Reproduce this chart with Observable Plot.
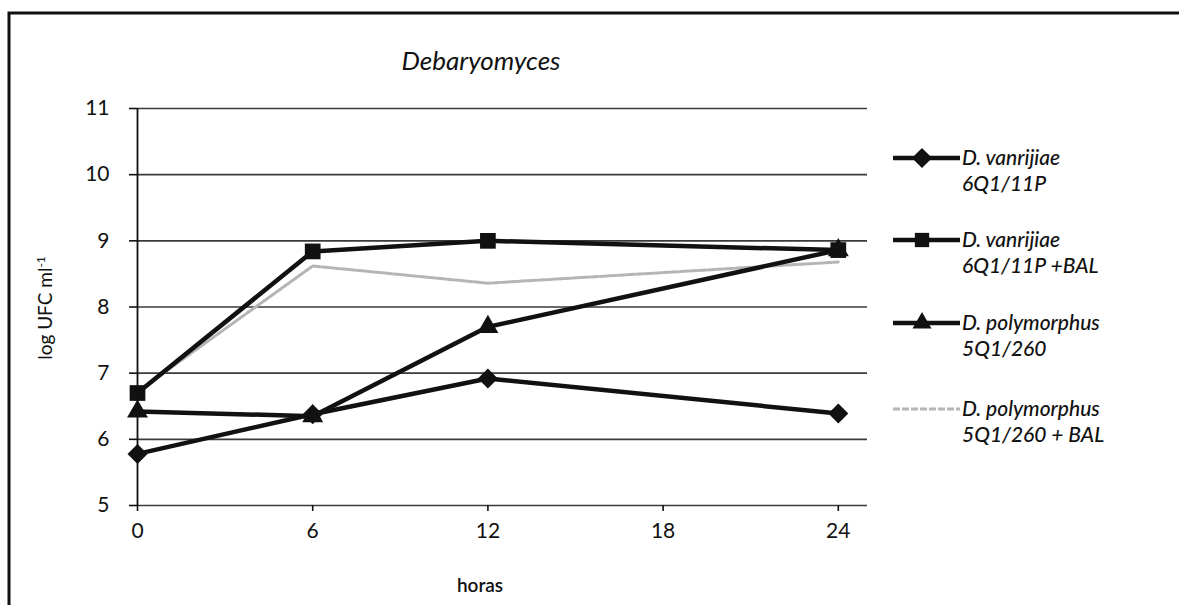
<!DOCTYPE html>
<html>
<head>
<meta charset="utf-8">
<script src="https://cdn.jsdelivr.net/npm/d3@7"></script>
<script src="https://cdn.jsdelivr.net/npm/@observablehq/plot@0.6"></script>
<style>
  html, body { margin: 0; padding: 0; background: #fff; }
  #chart { width: 1179px; height: 605px; overflow: hidden; }
</style>
</head>
<body>
<div id="chart"></div>
<script>
const hours = [0, 6, 12, 24];
const vanrijiae = [5.78, 6.38, 6.92, 6.39];
const vanrijiaeBAL = [6.70, 8.84, 9.00, 8.86];
const polymorphus = [6.42, 6.35, 7.70, 8.86];
const polymorphusBAL = [6.72, 8.62, 8.36, 8.68];
const seriesNames = [
  ["D. vanrijiae", "6Q1/11P"],
  ["D. vanrijiae", "6Q1/11P +BAL"],
  ["D. polymorphus", "5Q1/260"],
  ["D. polymorphus", "5Q1/260 + BAL"]
];
const xTicks = [0, 6, 12, 18, 24];
const yTicks = [5, 6, 7, 8, 9, 10, 11];
const titleText = "Debaryomyces";
const xLabel = "horas";

const toRows = (vals) => hours.map((h, i) => ({h, v: vals[i]}));
const s1 = toRows(vanrijiae), s2 = toRows(vanrijiaeBAL), s3 = toRows(polymorphus), s4 = toRows(polymorphusBAL);

const FONT = "Lato, 'Open Sans', sans-serif";

const plot = Plot.plot({
  width: 1179,
  height: 605,
  marginLeft: 137,
  marginRight: 312,
  marginTop: 108,
  marginBottom: 100,
  style: {fontFamily: FONT, fontSize: "21px", background: "transparent", color: "#111"},
  x: {domain: [0, 25], label: null},
  y: {domain: [5, 11], label: null},
  marks: [
    Plot.ruleY(yTicks, {x1: 0, x2: 25, stroke: "#3a3a3a", strokeWidth: 1.6}),
    Plot.ruleX([0], {y1: 5, y2: 11, stroke: "#111", strokeWidth: 1.8}),
    Plot.axisY({ticks: yTicks, tickFormat: d => String(d), tickSize: 8, tickPadding: 20, fontSize: 21, stroke: "#111", strokeWidth: 1.6}),
    Plot.axisX({ticks: xTicks, tickFormat: d => String(d), tickSize: 6, tickPadding: 12, fontSize: 21, stroke: "#111", strokeWidth: 1.6}),
    Plot.line(s4, {x: "h", y: "v", stroke: "#b5b5b5", strokeWidth: 3, strokeDasharray: "7,2"}),
    Plot.line(s1, {x: "h", y: "v", stroke: "#111", strokeWidth: 4.5}),
    Plot.line(s2, {x: "h", y: "v", stroke: "#111", strokeWidth: 4.5}),
    Plot.line(s3, {x: "h", y: "v", stroke: "#111", strokeWidth: 4.5}),
    Plot.dot(s1, {x: "h", y: "v", symbol: "diamond2", r: 9, fill: "#111"}),
    Plot.dot(s2, {x: "h", y: "v", symbol: "square2", r: 10, fill: "#111"}),
    Plot.dot(s3, {x: "h", y: "v", symbol: "triangle2", r: 10, fill: "#111"})
  ]
});

const svg = d3.select(plot);
const txt = (x, y, size, opts = {}) => svg.append("text")
  .attr("x", x).attr("y", y)
  .style("font-family", FONT).style("font-size", size + "px")
  .style("font-style", opts.italic ? "italic" : "normal")
  .style("font-weight", opts.weight || 400)
  .style("text-anchor", opts.anchor || "start")
  .style("fill", "#111");

// frame
svg.append("path").attr("d", "M9,605V13H1179").attr("fill", "none").attr("stroke", "#111").attr("stroke-width", 3);
// title
txt(481, 70, 26, {italic: true, anchor: "middle"}).text(titleText);
// x label
txt(480, 592, 19, {anchor: "middle", weight: 600}).text(xLabel);
// y label
const yl = txt(0, 0, 19, {anchor: "middle"}).attr("transform", "translate(52,308) rotate(-90)");
yl.append("tspan").text("log UFC ml");
yl.append("tspan").style("font-size", "12px").attr("dy", -7).text("-1");

// legend
const legendY = [158, 240, 323, 409];
const symTypes = [d3.symbolDiamond2, d3.symbolSquare2, d3.symbolTriangle2, null];
seriesNames.forEach((name, i) => {
  const g = svg.append("g").attr("transform", `translate(0,${legendY[i]})`);
  if (symTypes[i]) {
    g.append("line").attr("x1", 893).attr("x2", 960).attr("y1", 0).attr("y2", 0)
      .attr("stroke", "#111").attr("stroke-width", 4.5);
    g.append("path").attr("d", d3.symbol(symTypes[i], 260)()).attr("transform", "translate(922,0)").attr("fill", "#111");
  } else {
    g.append("line").attr("x1", 893).attr("x2", 960).attr("y1", 0).attr("y2", 0)
      .attr("stroke", "#b5b5b5").attr("stroke-width", 3).attr("stroke-dasharray", "7,2");
  }
  const t = g.append("text").attr("x", 962)
    .style("font-family", FONT).style("font-size", "21px").style("font-style", "italic")
    .style("font-weight", 500)
    .style("text-anchor", "start").style("fill", "#111");
  t.append("tspan").attr("x", 962).attr("dy", "0.35em").text(name[0]);
  t.append("tspan").attr("x", 962).attr("dy", 26).text(name[1]);
});

document.getElementById("chart").appendChild(plot);
</script>
</body>
</html>
